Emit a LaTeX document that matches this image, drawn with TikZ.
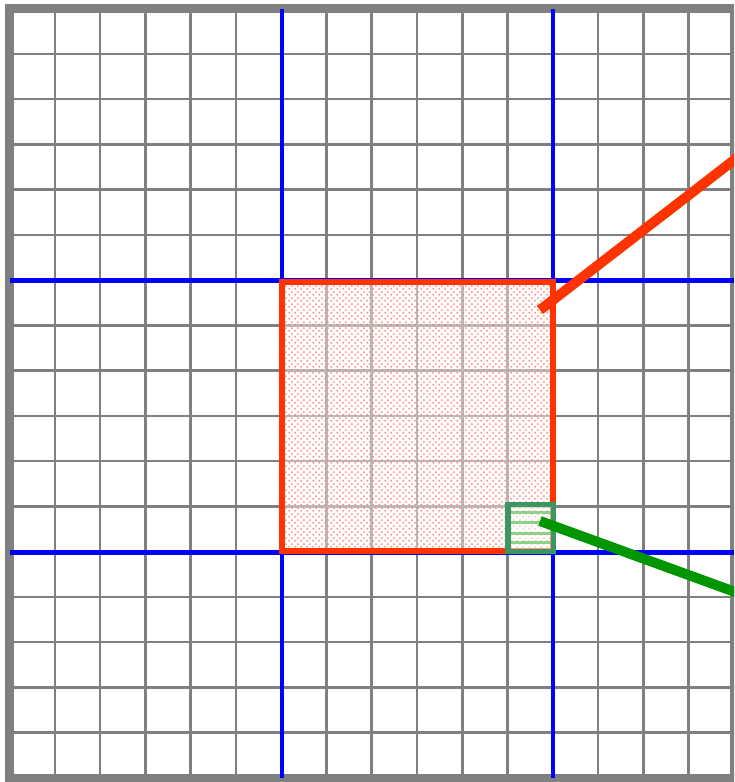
\documentclass[tikz,border=0pt]{standalone}
\usetikzlibrary{patterns}
\definecolor{gridgray}{RGB}{128,128,128}
\definecolor{redline}{RGB}{255,51,0}
\definecolor{redpat}{RGB}{255,120,100}
\definecolor{greenbox}{RGB}{60,150,100}
\definecolor{greenline}{RGB}{0,150,0}
\definecolor{greenstripe}{RGB}{110,200,110}
\pgfdeclarepatternformonly{mydots}{\pgfpointorigin}{\pgfpoint{6pt}{6pt}}{\pgfpoint{6pt}{6pt}}{
  \pgfpathcircle{\pgfpoint{1.5pt}{1.5pt}}{1.3pt}
  \pgfpathcircle{\pgfpoint{4.5pt}{4.5pt}}{1.3pt}
  \pgfusepath{fill}
}
\tikzset{
  gridline/.style={draw=gridgray, line width=2.5pt},
  frameline/.style={draw=gridgray, line width=9pt},
  blueline/.style={draw=blue, line width=4.5pt},
  redbox/.style={draw=redline, line width=6pt},
  greenbox/.style={draw=greenbox, line width=5.5pt},
  pointer/.style={line width=10pt, line cap=butt},
}
\begin{document}
\begin{tikzpicture}[x=1pt,y=-1pt]
\useasboundingbox (0,0) rectangle (734,782);
\clip (0,0) rectangle (734,782);
% grid
\foreach \i in {1,...,15} {
  \draw[gridline] ({9.5+45.28*\i},8.5) -- ({9.5+45.28*\i},778);
}
\foreach \j in {1,...,16} {
  \draw[gridline] (9.5,{8.5+45.26*\j}) -- (734,{8.5+45.26*\j});
}
% frame
\draw[frameline] (9.5,8.5) rectangle (734,778);
% blue axes
\coordinate (v1t) at (282,8.5);
\coordinate (v1b) at (282,778);
\coordinate (v2t) at (553,8.5);
\coordinate (v2b) at (553,778);
\coordinate (h1l) at (9.5,280.5);
\coordinate (h1r) at (734,280.5);
\coordinate (h2l) at (9.5,552.5);
\coordinate (h2r) at (734,552.5);
\draw[blueline] (v1t) -- (v1b);
\draw[blueline] (v2t) -- (v2b);
\draw[blueline] (h1l) -- (h1r);
\draw[blueline] (h2l) -- (h2r);
% red square
\fill[white, opacity=0.45] (281.5,282) rectangle (552.5,550.5);
\fill[pattern=mydots, pattern color=redpat, opacity=0.75] (281.5,282) rectangle (552.5,550.5);
\draw[redbox] (281.5,282) rectangle (552.5,550.5);
% green square
\fill[white, opacity=0.5] (508,504.5) rectangle (553.3,551.7);
\foreach \y in {512,522,533,542} {
  \draw[greenstripe, line width=3pt, opacity=0.8] (510,\y) -- (551,\y);
}
\draw[greenbox] (508,504.5) rectangle (553.3,551.7);
% pointers
\coordinate (rs) at (540,310);
\coordinate (re) at (760,140);
\coordinate (gs) at (540,521);
\coordinate (ge) at (760,601);
\draw[pointer, redline] (rs) -- (re);
\draw[pointer, greenline] (gs) -- (ge);
\end{tikzpicture}
\end{document}
